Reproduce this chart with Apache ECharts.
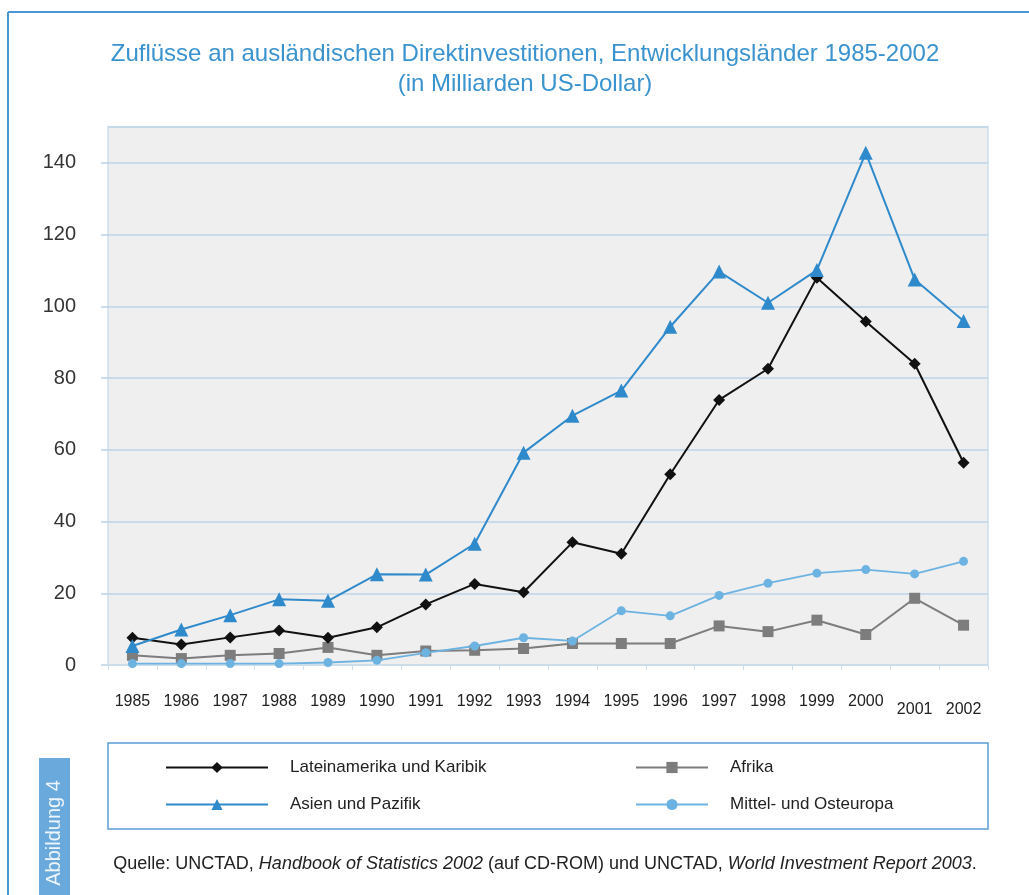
<!DOCTYPE html>
<html>
<head>
<meta charset="utf-8">
<script src="https://cdn.jsdelivr.net/npm/echarts@6/dist/echarts.min.js"></script>
<style>
html,body{margin:0;padding:0;background:#fff;}
#chart{width:1029px;height:895px;}
</style>
</head>
<body>
<div id="chart"></div>
<script>
const years = ['1985','1986','1987','1988','1989','1990','1991','1992','1993','1994','1995','1996','1997','1998','1999','2000','2001','2002'];
const lateinamerika = [7.6, 5.7, 7.7, 9.6, 7.6, 10.5, 16.9, 22.6, 20.3, 34.2, 31.0, 53.2, 73.9, 82.6, 108.0, 95.8, 84.0, 56.4];
const asien = [5.3, 9.9, 13.9, 18.3, 17.9, 25.3, 25.2, 33.8, 59.2, 69.5, 76.5, 94.3, 109.7, 101.0, 110.1, 142.8, 107.5, 95.9];
const afrika = [2.7, 1.8, 2.7, 3.2, 4.9, 2.7, 3.9, 4.1, 4.6, 6.0, 6.0, 6.0, 10.9, 9.3, 12.5, 8.5, 18.6, 11.1];
const mittelost = [0.4, 0.4, 0.4, 0.4, 0.7, 1.3, 3.4, 5.3, 7.6, 6.7, 15.1, 13.7, 19.4, 22.8, 25.6, 26.6, 25.4, 28.9];
const seriesNames = ['Lateinamerika und Karibik', 'Afrika', 'Asien und Pazifik', 'Mittel- und Osteuropa'];
const titleText = 'Zuflüsse an ausländischen Direktinvestitionen, Entwicklungsländer 1985-2002';
const subtitleText = '(in Milliarden US-Dollar)';

const FRAME = '#4a98d3';
const GRIDC = '#bcd4e8';
const FONT = '"Liberation Sans", Arial, sans-serif';

const chart = echarts.init(document.getElementById('chart'));
const legendBase = {
  orient: 'horizontal', itemHeight: 14, selectedMode: false,
  textStyle: {fontFamily: FONT, fontSize: 17, color: '#222', padding: [0, 0, 0, 17]}
};
chart.setOption({
  backgroundColor: '#ffffff',
  animation: false,
  title: {
    text: titleText,
    subtext: subtitleText,
    left: 520, textAlign: 'center', top: 37, itemGap: 6,
    textStyle: {fontFamily: FONT, fontSize: 24, fontWeight: 'normal', color: '#3a93cf'},
    subtextStyle: {fontFamily: FONT, fontSize: 24, color: '#3a93cf'}
  },
  grid: {
    left: 108, right: 41, top: 127, bottom: 230,
    show: true, backgroundColor: '#efefef', borderColor: '#cfdfec', borderWidth: 1.5
  },
  xAxis: {
    type: 'category', data: years, boundaryGap: true,
    axisLine: {show: true, lineStyle: {color: '#cfdfec', width: 1.5}},
    axisTick: {show: true, length: 5, lineStyle: {color: '#cfdfec'}},
    axisLabel: {
      interval: 0, margin: 29, fontFamily: FONT, fontSize: 16, color: '#222',
      formatter: v => (v === '2001' || v === '2002') ? '{low|' + v + '}' : v,
      rich: {low: {fontFamily: FONT, fontSize: 16, color: '#222', padding: [8, 0, 0, 0]}}
    }
  },
  yAxis: {
    type: 'value', min: 0, max: 150, interval: 20,
    axisLine: {show: false},
    axisTick: {show: true, length: 7, lineStyle: {color: GRIDC, width: 1.5}},
    axisLabel: {margin: 32, fontFamily: FONT, fontSize: 20, color: '#333', showMaxLabel: false},
    splitLine: {show: true, lineStyle: {color: GRIDC, width: 1.5}}
  },
  legend: [
    Object.assign({}, legendBase, {data: [seriesNames[0]], left: 160, top: 754, itemWidth: 102}),
    Object.assign({}, legendBase, {data: [seriesNames[1]], left: 630, top: 754, itemWidth: 72}),
    Object.assign({}, legendBase, {data: [seriesNames[2]], left: 160, top: 791, itemWidth: 102}),
    Object.assign({}, legendBase, {data: [seriesNames[3]], left: 630, top: 791, itemWidth: 72})
  ],
  series: [
    {name: seriesNames[1], type: 'line', data: afrika, z: 2,
      symbol: 'rect', symbolSize: 11,
      lineStyle: {color: '#7d7d7d', width: 2}, itemStyle: {color: '#7d7d7d'}},
    {name: seriesNames[3], type: 'line', data: mittelost, z: 3,
      symbol: 'circle', symbolSize: 9,
      lineStyle: {color: '#6db3e2', width: 1.8}, itemStyle: {color: '#6db3e2'}},
    {name: seriesNames[0], type: 'line', data: lateinamerika, z: 4,
      symbol: 'diamond', symbolSize: 12,
      lineStyle: {color: '#111111', width: 2}, itemStyle: {color: '#111111'}},
    {name: seriesNames[2], type: 'line', data: asien, z: 5,
      symbol: 'triangle', symbolSize: 14,
      lineStyle: {color: '#2f8acb', width: 2}, itemStyle: {color: '#2f8acb'}}
  ],
  graphic: [
    {type: 'line', shape: {x1: 8, y1: 12, x2: 1029, y2: 12}, style: {stroke: FRAME, lineWidth: 2}},
    {type: 'line', shape: {x1: 8, y1: 12, x2: 8, y2: 895}, style: {stroke: FRAME, lineWidth: 2}},
    {type: 'rect', shape: {x: 108, y: 743, width: 880, height: 86}, style: {fill: 'none', stroke: '#5a9fd6', lineWidth: 1.5}, z: -1},
    {type: 'rect', shape: {x: 39, y: 758, width: 31, height: 137}, style: {fill: '#6aa9dc'}},
    {type: 'text', x: 54, y: 833, rotation: Math.PI / 2,
      style: {text: 'Abbildung 4', fill: '#eef5fb', font: '20px ' + FONT, align: 'center', verticalAlign: 'middle'}},
    {type: 'text', x: 545, y: 864,
      style: {
        text: 'Quelle: UNCTAD, {i|Handbook of Statistics 2002} (auf CD-ROM) und UNCTAD, {i|World Investment Report 2003}.',
        font: '18px ' + FONT, fill: '#222', align: 'center', verticalAlign: 'middle',
        rich: {i: {fontStyle: 'italic', fontFamily: FONT, fontSize: 18, fill: '#222'}}
      }}
  ]
});
</script>
</body>
</html>
